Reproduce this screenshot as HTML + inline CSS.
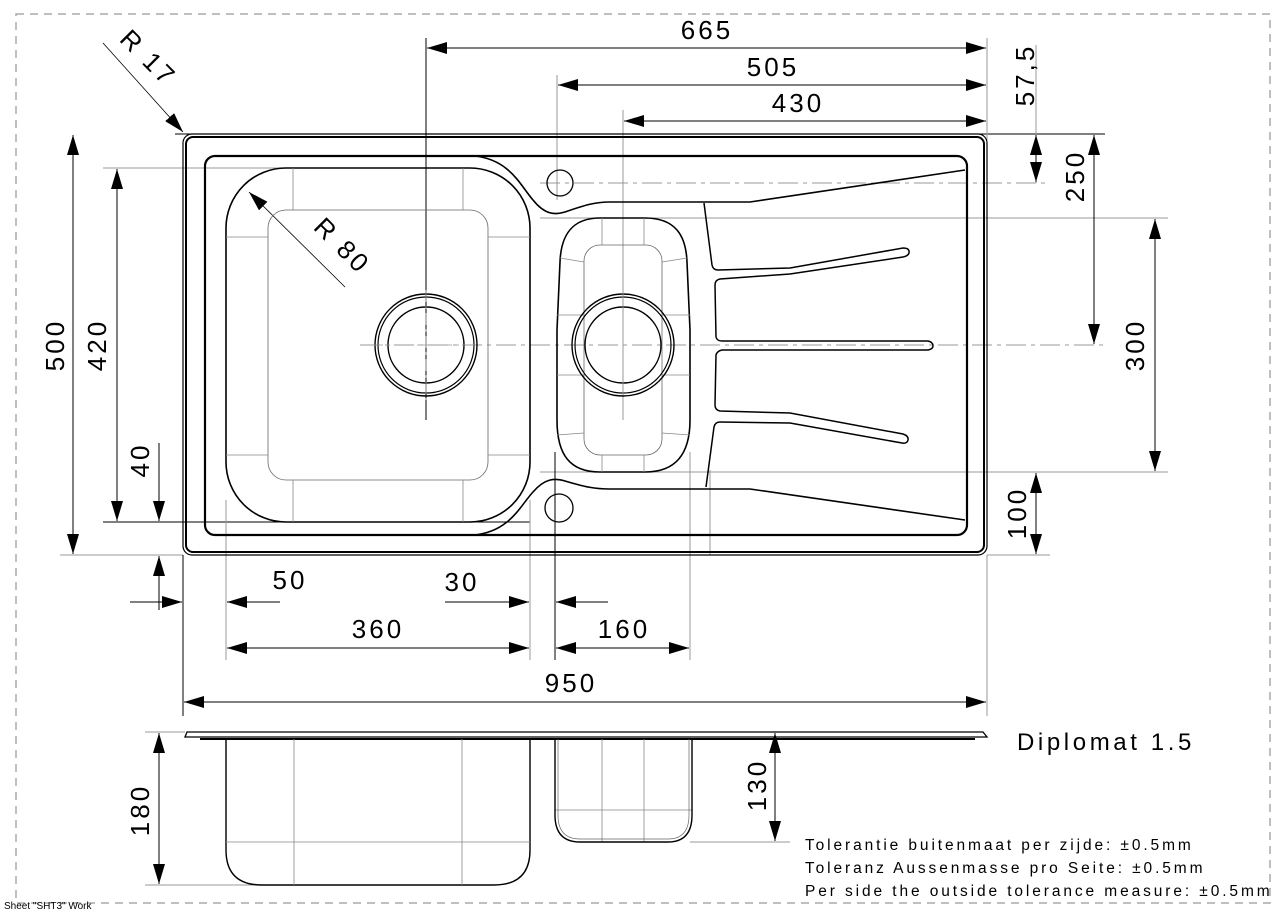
<!DOCTYPE html>
<html><head><meta charset="utf-8"><style>
html,body{margin:0;padding:0;background:#fff;}
svg{display:block;}
text{font-family:"Liberation Sans",Arial,sans-serif;fill:#000;}
.d{font-size:26px;letter-spacing:3px;text-anchor:middle;}
</style></head><body>
<svg width="1287" height="916" viewBox="0 0 1287 916" xmlns="http://www.w3.org/2000/svg">
<defs>
<marker id="a" viewBox="0 0 10 6" refX="10" refY="3" markerWidth="20" markerHeight="12" markerUnits="userSpaceOnUse" orient="auto-start-reverse"><path d="M0,0 L10,3 L0,6 Z" fill="#000"/></marker>
</defs>
<rect x="16" y="14" width="1254" height="889" fill="none" stroke="#aaa" stroke-width="1.5" stroke-dasharray="8,6"/>

<g fill="none" stroke="#999" stroke-width="1">
<line x1="175" y1="134" x2="1105" y2="134" stroke="#000"/>
<line x1="540" y1="183" x2="1050" y2="183" stroke-dasharray="20,5,4,5"/>
<line x1="540" y1="218" x2="1168" y2="218"/>
<line x1="360" y1="345" x2="1108" y2="345" stroke-dasharray="20,5,4,5"/>
<line x1="540" y1="472" x2="1168" y2="472"/>
<line x1="103" y1="168" x2="300" y2="168"/>
<line x1="103" y1="522" x2="530" y2="522" stroke="#000"/>
<line x1="60" y1="555" x2="183" y2="555"/>
<line x1="987" y1="555" x2="1050" y2="555"/>
<line x1="426" y1="38" x2="426" y2="420" stroke="#000"/>
<line x1="557" y1="75" x2="557" y2="200"/>
<line x1="623" y1="110" x2="623" y2="420"/>
<line x1="987" y1="38" x2="987" y2="140"/>
<line x1="183" y1="555" x2="183" y2="716" stroke="#000"/>
<line x1="987" y1="555" x2="987" y2="716"/>
<line x1="226" y1="500" x2="226" y2="660"/>
<line x1="530" y1="500" x2="530" y2="660"/>
<line x1="555" y1="452" x2="555" y2="660" stroke="#000"/>
<line x1="690" y1="452" x2="690" y2="660"/>
<line x1="710" y1="470" x2="710" y2="555"/>
<line x1="1036" y1="45" x2="1036" y2="183"/>
<line x1="145" y1="732" x2="185" y2="732"/>
<line x1="145" y1="885" x2="260" y2="885"/>
<line x1="690" y1="842" x2="790" y2="842"/>
</g>

<g stroke="#000" stroke-width="1" fill="none">
<line x1="427" y1="48" x2="986" y2="48" marker-start="url(#a)" marker-end="url(#a)"/>
<line x1="558" y1="85" x2="986" y2="85" marker-start="url(#a)" marker-end="url(#a)"/>
<line x1="624" y1="121" x2="986" y2="121" marker-start="url(#a)" marker-end="url(#a)"/>
<line x1="73" y1="135" x2="73" y2="554" marker-start="url(#a)" marker-end="url(#a)"/>
<line x1="117" y1="169" x2="117" y2="521" marker-start="url(#a)" marker-end="url(#a)"/>
<line x1="159" y1="443" x2="159" y2="521" marker-end="url(#a)"/>
<line x1="159" y1="610" x2="159" y2="556" marker-end="url(#a)"/>
<line x1="1036" y1="168" x2="1036" y2="135" marker-end="url(#a)"/>
<line x1="1036" y1="150" x2="1036" y2="182" marker-end="url(#a)"/>
<line x1="1094" y1="135" x2="1094" y2="344" marker-start="url(#a)" marker-end="url(#a)"/>
<line x1="1155" y1="219" x2="1155" y2="471" marker-start="url(#a)" marker-end="url(#a)"/>
<line x1="1036" y1="473" x2="1036" y2="554" marker-start="url(#a)" marker-end="url(#a)"/>
<line x1="130" y1="602" x2="182" y2="602" marker-end="url(#a)"/>
<line x1="280" y1="602" x2="227" y2="602" marker-end="url(#a)"/>
<line x1="445" y1="602" x2="529" y2="602" marker-end="url(#a)"/>
<line x1="608" y1="602" x2="556" y2="602" marker-end="url(#a)"/>
<line x1="227" y1="648" x2="529" y2="648" marker-start="url(#a)" marker-end="url(#a)"/>
<line x1="556" y1="648" x2="689" y2="648" marker-start="url(#a)" marker-end="url(#a)"/>
<line x1="184" y1="702" x2="986" y2="702" marker-start="url(#a)" marker-end="url(#a)"/>
<line x1="159" y1="733" x2="159" y2="884" marker-start="url(#a)" marker-end="url(#a)"/>
<line x1="775" y1="733" x2="775" y2="841" marker-start="url(#a)" marker-end="url(#a)"/>
<line x1="103" y1="43" x2="183" y2="132" stroke-width="0.8" marker-end="url(#a)"/>
<line x1="345" y1="287" x2="249" y2="192" stroke-width="0.8" marker-end="url(#a)"/>
</g>

<g fill="none" stroke="#000">
<rect x="183" y="134" width="804" height="421" rx="9" stroke-width="1.2"/>
<rect x="186" y="137" width="798" height="415" rx="7" stroke-width="2"/>
<rect x="205" y="156" width="762" height="379" rx="10" stroke-width="2.2"/>
<path d="M475,156 C510,160 520,185 533,200 C545,215 555,215 565,212 C585,205 595,202 610,202 L750,202 L965,170" stroke-width="1.6"/>
<path d="M475,535 C510,531 520,506 533,492 C545,478 555,478 565,481 C585,487 595,489 610,489 L750,489 L965,520" stroke-width="1.6"/>
<rect x="226" y="168" width="304" height="354" rx="60" stroke-width="1.6"/>
<rect x="268" y="210" width="220" height="270" rx="18" stroke="#666" stroke-width="0.8"/>
<g stroke="#888" stroke-width="0.8">
<line x1="293" y1="168" x2="293" y2="210"/><line x1="463" y1="168" x2="463" y2="210"/>
<line x1="293" y1="480" x2="293" y2="522"/><line x1="463" y1="480" x2="463" y2="522"/>
<line x1="226" y1="237" x2="268" y2="237"/><line x1="488" y1="237" x2="530" y2="237"/>
<line x1="226" y1="455" x2="268" y2="455"/><line x1="488" y1="455" x2="530" y2="455"/>
</g>
<circle cx="426" cy="345" r="51" stroke-width="1.4"/>
<circle cx="426" cy="345" r="48" stroke-width="1.2"/>
<circle cx="426" cy="345" r="38" stroke-width="1.4"/>
<path d="M600,218 L645,218 C675,218 686,235 687,262 L690,330 L690,420 C690,455 675,472 645,472 L600,472 C570,472 557,455 557,420 L557,330 L560,262 C561,235 572,218 600,218 Z" stroke-width="1.6"/>
<rect x="584" y="245" width="78" height="210" rx="16" stroke="#666" stroke-width="0.8"/>
<g stroke="#888" stroke-width="0.8">
<line x1="602" y1="218" x2="602" y2="245"/><line x1="644" y1="218" x2="644" y2="245"/>
<line x1="602" y1="455" x2="602" y2="472"/><line x1="644" y1="455" x2="644" y2="472"/>
<line x1="560" y1="258" x2="584" y2="262"/><line x1="662" y1="262" x2="687" y2="258"/>
<line x1="557" y1="315" x2="584" y2="315"/><line x1="662" y1="315" x2="690" y2="315"/>
<line x1="557" y1="375" x2="584" y2="375"/><line x1="662" y1="375" x2="690" y2="375"/>
<line x1="557" y1="435" x2="584" y2="433"/><line x1="662" y1="433" x2="690" y2="435"/>
</g>
<circle cx="623" cy="345" r="51" stroke-width="1.4"/>
<circle cx="623" cy="345" r="48" stroke-width="1.2"/>
<circle cx="623" cy="345" r="38" stroke-width="1.4"/>
<circle cx="560" cy="183" r="13" stroke-width="1.3"/>
<circle cx="559" cy="508" r="14" stroke-width="1.3"/>
<path d="M704,203 L712,265 Q713,270 718,270 L790,268 L903,248 Q910,248 909,253 Q908,256 903,257 L790,274 L720,279 Q715,280 715,285 L716,337 Q717,341 722,341 L928,341 Q933,342 933,346 Q933,349 928,350 L722,350 Q717,351 716,355 L715,405 Q715,410 720,411 L790,413 L903,434 Q909,436 908,440 Q907,444 902,443 L790,423 L720,422 Q715,422 714,427 L706,487" stroke-width="1.5"/>
</g>
<g stroke="#999" stroke-width="0.8" stroke-dasharray="12,4,3,4" fill="none">
<line x1="426" y1="290" x2="426" y2="400"/>
<line x1="371" y1="345" x2="481" y2="345"/>
<line x1="623" y1="290" x2="623" y2="400"/>
</g>

<g fill="none" stroke="#000">
<path d="M187,732 L983,732 L987,737 L185,737 Z" stroke-width="1.3"/>
<line x1="200" y1="739" x2="975" y2="739" stroke-width="2"/>
<path d="M226,739 L226,850 Q226,885 262,885 L494,885 Q530,885 530,850 L530,739" stroke-width="1.4"/>
<g stroke="#888" stroke-width="0.8">
<line x1="294" y1="739" x2="294" y2="885"/><line x1="462" y1="739" x2="462" y2="885"/>
<line x1="226" y1="842" x2="530" y2="842"/>
<line x1="602" y1="739" x2="602" y2="842"/><line x1="644" y1="739" x2="644" y2="842"/>
<line x1="555" y1="810" x2="692" y2="810"/>
</g>
<path d="M555,739 L555,815 Q555,842 580,842 L668,842 Q692,842 692,815 L692,739" stroke-width="1.4"/>
<path d="M558,739 L558,815 Q558,839 580,839 L668,839 Q689,839 689,815 L689,739" stroke="#666" stroke-width="0.7"/>
</g>

<g class="d">
<text x="707" y="39">665</text>
<text x="773" y="76">505</text>
<text x="798" y="112">430</text>
<text x="378" y="638">360</text>
<text x="624" y="638">160</text>
<text x="290" y="589">50</text>
<text x="462" y="591">30</text>
<text x="571" y="692">950</text>
<text transform="translate(142,64) rotate(45)">R 17</text>
<text transform="translate(336,252) rotate(45)">R 80</text>
<text transform="translate(64,345) rotate(-90)">500</text>
<text transform="translate(106,345) rotate(-90)">420</text>
<text transform="translate(149,460) rotate(-90)">40</text>
<text transform="translate(1034,75) rotate(-90)">57,5</text>
<text transform="translate(1084,176) rotate(-90)">250</text>
<text transform="translate(1144,345) rotate(-90)">300</text>
<text transform="translate(1026,513) rotate(-90)">100</text>
<text transform="translate(149,810) rotate(-90)">180</text>
<text transform="translate(766,785) rotate(-90)">130</text>
</g>
<text x="1017" y="750" font-size="24" letter-spacing="3.6">Diplomat 1.5</text>
<g font-size="15.5" letter-spacing="2.9">
<text x="805" y="850">Tolerantie buitenmaat per zijde: ±0.5mm</text>
<text x="805" y="873">Toleranz Aussenmasse pro Seite: ±0.5mm</text>
<text x="805" y="896">Per side the outside tolerance measure: ±0.5mm</text>
</g>
<text x="4" y="909" font-size="10">Sheet "SHT3" Work</text>
</svg>
</body></html>
